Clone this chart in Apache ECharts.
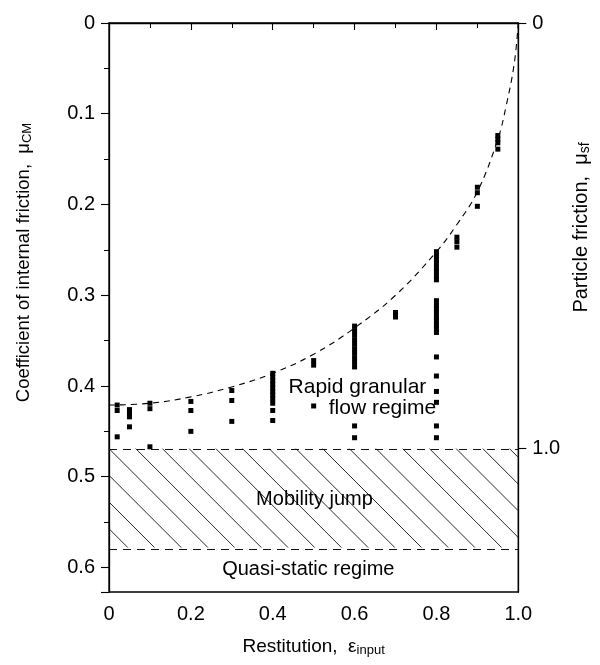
<!DOCTYPE html>
<html>
<head>
<meta charset="utf-8">
<script src="https://cdn.jsdelivr.net/npm/echarts@6/dist/echarts.min.js"></script>
<style>
  html, body { margin: 0; padding: 0; background: #fff; }
  #chart { width: 600px; height: 665px; }
</style>
</head>
<body>
<div id="chart"></div>
<script>
// Simulated internal friction vs. restitution (one array per restitution column)
const restitution = [0.02, 0.05, 0.1, 0.2, 0.3, 0.4, 0.5, 0.6, 0.7, 0.8, 0.85, 0.9, 0.95];
const muAt002 = [0.421, 0.427, 0.456];
const muAt005 = [0.426, 0.430, 0.434, 0.445];
const muAt010 = [0.419, 0.425, 0.467];
const muAt020 = [0.417, 0.427, 0.450];
const muAt030 = [0.405, 0.416, 0.439];
const muAt040 = [0.386, 0.390, 0.394, 0.398, 0.402, 0.406, 0.410, 0.414, 0.419, 0.427, 0.438];
const muAt050 = [0.372, 0.377, 0.422];
const muAt060 = [0.334, 0.339, 0.344, 0.349, 0.354, 0.359, 0.364, 0.369, 0.374, 0.379, 0.444, 0.457];
const muAt070 = [0.319, 0.324];
const muAt080 = [0.252, 0.257, 0.261, 0.265, 0.270, 0.274, 0.279, 0.283,
                 0.306, 0.311, 0.315, 0.319, 0.324, 0.328, 0.333, 0.337, 0.341,
                 0.368, 0.389, 0.406, 0.418, 0.444, 0.457];
const muAt085 = [0.236, 0.241, 0.247];
const muAt090 = [0.181, 0.187, 0.202];
const muAt095 = [0.124, 0.128, 0.132, 0.139];
const muColumns = [muAt002, muAt005, muAt010, muAt020, muAt030, muAt040, muAt050,
                   muAt060, muAt070, muAt080, muAt085, muAt090, muAt095];

// Upper bound curve (dashed)
const curveRestitution = [0, 0.1, 0.2, 0.3, 0.4, 0.5, 0.6, 0.7, 0.8, 0.85, 0.9, 0.95, 0.97, 0.99, 1.0];
const curveMu          = [0.421, 0.419, 0.412, 0.401, 0.386, 0.365, 0.336, 0.300, 0.252, 0.222, 0.186, 0.128, 0.092, 0.045, 0];

// Regime boundaries (coefficient of internal friction)
const mobilityJumpTop = 0.469;     // corresponds to particle friction 1.0
const mobilityJumpBottom = 0.578;
const particleFrictionAtJump = 1.0;

// Axes
const xTicks = [0, 0.2, 0.4, 0.6, 0.8, 1.0];
const yTicks = [0, 0.1, 0.2, 0.3, 0.4, 0.5, 0.6];
const yMax = 0.627;
const rightTicks = [0, 1.0];

// Region labels [restitution, mu, text, font size]
const regionLabels = [
  [0.607, 0.401, 'Rapid granular', 21],
  [0.668, 0.424, 'flow regime', 21],
  [0.502, 0.525, 'Mobility jump', 20],
  [0.487, 0.602, 'Quasi-static regime', 20]
];

const FONT = '"Liberation Sans", Arial, Helvetica, sans-serif';
const points = [];
restitution.forEach((e, i) => muColumns[i].forEach(m => points.push([e, m])));

const chart = echarts.init(document.getElementById('chart'), null, { renderer: 'canvas' });

// Diagonal hatching of the mobility-jump band, clipped to the band rectangle
function hatchItem(params, api) {
  const tl = api.coord([api.value(0), api.value(2)]);
  const br = api.coord([api.value(1), api.value(3)]);
  const x0 = tl[0], y0 = tl[1], x1 = br[0], y1 = br[1];
  const h = y1 - y0;
  const step = 26.7;
  const children = [];
  for (let xs = x0 - Math.ceil(h / step) * step; xs < x1; xs += step) {
    let sx = xs, sy = y0, ex = xs + h, ey = y1;
    if (sx < x0) { sy = y0 + (x0 - sx); sx = x0; }
    if (ex > x1) { ey = y0 + (x1 - xs); ex = x1; }
    if (ex <= sx) continue;
    children.push({
      type: 'line',
      shape: { x1: sx, y1: sy, x2: ex, y2: ey },
      style: { stroke: '#111', lineWidth: 0.9 }
    });
  }
  return { type: 'group', children };
}

const nameRich = (size) => ({
  a: { fontFamily: FONT, fontSize: size, color: '#000', lineHeight: 26 },
  s: { fontFamily: FONT, fontSize: Math.round(size * 0.7), color: '#000', lineHeight: 26, padding: [7, 0, 0, 0] }
});

const option = {
  animation: false,
  backgroundColor: '#fff',
  textStyle: { fontFamily: FONT },
  grid: { left: 109, right: 79, top: 23, bottom: 73, show: true, borderColor: '#000', borderWidth: 1.3 },
  xAxis: {
    type: 'value', min: 0, max: 1, interval: 0.2,
    name: '{a|Restitution,  ε}{s|input}',
    nameLocation: 'middle', nameGap: 42,
    nameTextStyle: { rich: nameRich(19) },
    axisLine: { show: true, lineStyle: { color: '#000', width: 1.3 } },
    axisTick: { show: true, length: 7, lineStyle: { color: '#000', width: 1.1 } },
    minorTick: { show: true, splitNumber: 2, length: 5, lineStyle: { color: '#000', width: 1 } },
    splitLine: { show: false },
    axisLabel: {
      margin: 12, fontFamily: FONT, fontSize: 20, color: '#000',
      formatter: v => (xTicks.includes(+v.toFixed(2)) ? (v === 0 ? '0' : v.toFixed(1)) : '')
    }
  },
  yAxis: [
    {
      type: 'value', inverse: true, min: 0, max: yMax, interval: 0.1,
      name: '{a|Coefficient of internal friction,  μ}{s|CM}',
      nameLocation: 'middle', nameGap: 72, nameRotate: 90,
      nameTextStyle: { rich: nameRich(18.5), padding: [0, 0, 0, 90] },
      axisLine: { show: true, lineStyle: { color: '#000', width: 1.3 } },
      axisTick: { show: true, length: 8, lineStyle: { color: '#000', width: 1.1 } },
      minorTick: { show: true, splitNumber: 2, length: 5, lineStyle: { color: '#000', width: 1 } },
      splitLine: { show: false },
      axisLabel: {
        margin: 14, fontFamily: FONT, fontSize: 20, color: '#000', showMaxLabel: false,
        formatter: v => (yTicks.includes(+v.toFixed(2)) ? (v === 0 ? '0' : v.toFixed(1)) : '')
      }
    },
    {
      type: 'value', inverse: true, position: 'right',
      min: 0, max: yMax / mobilityJumpTop * particleFrictionAtJump, interval: 1,
      name: '{a|Particle friction,  μ}{s|sf}',
      nameLocation: 'middle', nameGap: 50, nameRotate: 90,
      nameTextStyle: { rich: nameRich(20), padding: [0, 0, 0, 160] },
      axisLine: { show: true, lineStyle: { color: '#000', width: 1.3 } },
      axisTick: { show: true, length: 8, lineStyle: { color: '#000', width: 1.1 } },
      splitLine: { show: false },
      axisLabel: {
        margin: 14, fontFamily: FONT, fontSize: 20, color: '#000', showMaxLabel: false,
        formatter: v => (rightTicks.includes(+v.toFixed(2)) ? (v === 0 ? '0' : v.toFixed(1)) : '')
      }
    }
  ],
  series: [
    {
      name: 'mobility jump',
      type: 'custom',
      renderItem: hatchItem,
      data: [[0, 1, mobilityJumpTop, mobilityJumpBottom]],
      silent: true, z: 1,
      markLine: {
        silent: true, symbol: 'none',
        label: { show: false },
        lineStyle: { color: '#111', width: 1, type: [8, 6] },
        data: [{ yAxis: mobilityJumpTop }, { yAxis: mobilityJumpBottom }]
      }
    },
    {
      name: 'upper bound',
      type: 'line',
      smooth: 0.4,
      showSymbol: false,
      data: curveRestitution.map((e, i) => [e, curveMu[i]]),
      lineStyle: { color: '#000', width: 1.1, type: [6, 5] },
      z: 3
    },
    {
      name: 'simulation',
      type: 'scatter',
      symbol: 'rect',
      symbolSize: [5, 5],
      itemStyle: { color: '#000', opacity: 1 },
      data: points,
      z: 4
    },
    {
      name: 'regions',
      type: 'scatter',
      symbolSize: 0,
      silent: true,
      itemStyle: { opacity: 1 },
      data: regionLabels.map(r => ({
        value: [r[0], r[1]], name: r[2],
        label: { fontSize: r[3] }
      })),
      label: {
        show: true, position: 'inside',
        formatter: p => p.name,
        fontFamily: FONT, fontSize: 20, color: '#000'
      },
      z: 5
    }
  ]
};

chart.setOption(option);
</script>
</body>
</html>
